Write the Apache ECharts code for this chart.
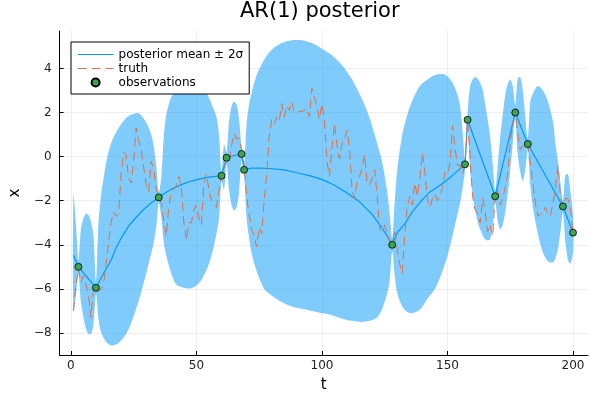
<!DOCTYPE html>
<html lang="en">
<head>
<meta charset="UTF-8">
<title>AR(1) posterior</title>
<script src="https://cdn.jsdelivr.net/npm/echarts@6.0.0/dist/echarts.min.js"></script>
<style>html, body { margin: 0; padding: 0; background: #fff; }</style>
</head>
<body>
<div id="chart" style="width: 600px; height: 400px"></div>
<script>
// observations
var obsT = [3, 10, 35, 60, 62, 68, 69, 128, 157, 158, 169, 177, 182, 196, 200];
var obsX = [-5.0, -5.95, -1.85, -0.87, -0.05, 0.12, -0.6, -4.0, -0.35, 1.67, -1.8, 2.0, 0.57, -2.26, -3.45];

// posterior mean
var meanT = [1, 3, 10, 13, 16, 18, 20, 23, 26, 29, 32, 35, 38, 41, 44, 47, 51, 55, 58, 60,
             62, 65, 68, 69, 72, 76, 80, 85, 90, 95, 100, 105, 110, 115, 120, 124, 126, 128,
             130, 133, 136, 140, 143, 147, 150, 153, 157, 158, 169, 177, 182, 196, 200];
var meanX = [-4.47, -5.0, -5.95, -5.3, -4.7, -4.15, -3.7, -3.15, -2.75, -2.4, -2.1, -1.85, -1.62, -1.42, -1.27, -1.14, -1.02, -0.93, -0.89, -0.87,
             -0.05, 0.05, 0.12, -0.6, -0.52, -0.52, -0.55, -0.6, -0.73, -0.86, -1.03, -1.3, -1.65, -2.05, -2.62, -3.25, -3.6, -4.0,
             -3.45, -3.05, -2.5, -1.95, -1.6, -1.3, -1.05, -0.75, -0.35, 1.67, -1.8, 2.0, 0.57, -2.26, -3.45];

// ribbon: mean +/- 2 sigma, lower and upper edge
var bandT = [1, 2, 3, 4, 5, 6, 7, 8, 9, 10,
             11, 12, 14, 16, 19, 22, 24, 27, 30, 32, 33, 34, 35,
             36, 37, 38, 40, 42, 45, 48, 51, 54, 56, 58, 59, 60,
             61, 62, 63, 64, 65, 66, 67, 68, 69,
             70, 71, 72, 74, 77, 80, 84, 88, 92, 96, 100, 104, 108, 112, 116, 119, 122, 124, 126, 127, 128,
             129, 130, 132, 134, 136, 139, 142, 145, 148, 150, 152, 154, 155, 156, 157,
             158, 159, 160, 161, 162, 163, 164, 165, 166, 167, 168, 169,
             170, 171, 172, 173, 174, 175, 176, 177,
             178, 179, 180, 181, 182,
             183, 184, 186, 188, 190, 192, 193, 194, 195, 196,
             197, 198, 199, 200];
var bandLo = [-7.0, -6.3, -5.3, -6.6, -7.3, -7.8, -8.05, -8.05, -7.6, -6.25,
              -7.35, -7.95, -8.4, -8.57, -8.45, -8.05, -7.55, -6.55, -5.3, -4.4, -3.9, -3.2, -2.1,
              -2.75, -3.9, -4.5, -5.3, -5.8, -5.95, -5.97, -5.75, -5.15, -4.5, -3.5, -2.8, -1.1,
              -1.5, -0.35, -1.5, -2.2, -2.45, -2.3, -1.6, -0.15, -0.85,
              -2.8, -3.7, -4.4, -5.2, -6.0, -6.3, -6.6, -6.8, -6.9, -7.0, -7.1, -7.2, -7.35, -7.45, -7.5, -7.45, -7.3, -6.9, -6.2, -5.6, -4.3,
              -5.4, -6.2, -6.8, -7.05, -7.1, -6.95, -6.45, -6.0, -5.2, -4.5, -3.6, -2.6, -2.1, -1.45, -0.6,
              1.4, -0.6, -1.7, -2.4, -2.95, -3.3, -3.55, -3.75, -3.8, -3.75, -3.1, -2.05,
              -2.9, -3.3, -3.1, -2.5, -1.7, -0.6, 0.6, 1.7,
              0.1, -0.7, -1.1, -0.6, 0.3,
              -1.3, -2.3, -3.5, -4.35, -4.75, -4.8, -4.6, -4.2, -3.4, -2.55,
              -3.9, -4.7, -4.85, -4.3];
var bandHi = [-1.7, -3.0, -4.7, -3.3, -2.8, -2.6, -2.65, -2.95, -3.6, -5.65,
              -3.0, -1.8, -0.3, 0.6, 1.3, 1.75, 1.9, 1.97, 1.55, 1.0, 0.45, -0.4, -1.6,
              -0.95, 0.9, 1.9, 2.7, 3.0, 3.4, 3.6, 3.45, 2.9, 2.4, 1.8, 1.0, -0.65,
              0.55, 0.2, 1.6, 2.3, 2.5, 2.35, 1.7, 0.35, -0.35,
              1.5, 2.4, 2.9, 3.7, 4.4, 4.85, 5.15, 5.28, 5.28, 5.15, 4.9, 4.6, 4.15, 3.5, 2.6, 1.75, 0.6, -0.25, -1.6, -2.6, -3.7,
              -2.0, -0.6, 1.0, 1.9, 2.55, 3.2, 3.5, 3.7, 3.75, 3.65, 3.35, 2.8, 2.3, 1.2, -0.1,
              1.95, 3.2, 3.5, 3.6, 3.55, 3.35, 3.05, 2.4, 1.7, 0.9, -0.3, -1.55,
              -0.4, 0.9, 1.9, 2.8, 3.3, 3.5, 3.2, 2.35,
              3.55, 3.6, 3.0, 1.8, 0.85,
              2.5, 2.85, 3.2, 3.0, 2.5, 1.6, 0.6, -0.2, -1.2, -2.0,
              -0.85, -0.8, -1.6, -2.7];

// truth, t = 1..200
var truthX = [-7.0, -5.9, -5.1, -5.7, -5.4, -5.8, -6.3, -7.3, -6.0, -5.9,
              -6.1, -6.0, -5.8, -4.9, -3.9, -3.0, -2.5, -2.7, -2.6, -0.8,
              0.2, 0.1, -1.0, -1.2, -0.2, 1.3, 0.7, 0.3, -0.5, -1.25,
              -1.6, -0.2, -0.6, -1.5, -1.85, -2.1, -2.9, -3.6, -2.3, -1.6,
              -1.5, -1.3, -0.9, -1.4, -3.0, -3.8, -3.0, -3.0, -2.4, -2.2,
              -2.8, -3.1, -1.2, -0.8, -1.5, -2.0, -2.1, -2.3, -1.5, -0.9,
              -0.4, -0.2, -0.3, 0.5, 1.05, 0.8, 0.85, 0.3, -0.4, -1.8,
              -2.6, -3.3, -3.6, -4.1, -3.2, -3.5, -2.0, -0.8, 0.9, 1.7,
              1.5, 1.8, 1.6, 2.4, 1.8, 2.3, 2.1, 2.5, 2.0, 2.0,
              2.05, 2.05, 2.1, 2.2, 1.8, 3.1, 2.7, 2.3, 1.7, 2.4,
              1.6, -0.2, -0.9, 0.4, 1.5, 0.5, -0.1, 0.6, 0.8, 1.2,
              0.3, -1.5, -1.9, -1.1, -0.9, -0.5, 0.1, -1.2, -1.3, -1.0,
              -0.6, -1.8, -3.3, -3.4, -3.1, -3.5, -3.8, -4.0, -3.3, -4.2,
              -4.9, -5.3, -3.5, -2.3, -1.8, -2.2, -1.2, -1.8, -1.0, 0.2,
              -0.7, -1.9, -2.3, -1.9, -1.7, -2.0, -1.8, -1.4, -0.7, -0.8,
              -0.3, 1.4, 0.4, -0.4, -0.4, -0.8, -0.35, 1.65, 0.0, -1.8,
              -2.4, -2.6, -3.0, -1.9, -2.5, -3.4, -3.1, -3.6, -1.8, -1.5,
              -2.2, -1.9, -1.4, -0.8, 0.7, 1.5, 2.2, 1.0, 0.3, 0.5,
              0.4, 0.55, -0.3, -1.2, -2.1, -2.7, -2.6, -2.6, -2.3, -2.6,
              -2.7, -2.1, -1.5, -0.4, -1.8, -2.25, -1.9, -1.9, -2.4, -3.45];

var xTicks = [0, 50, 100, 150, 200];
var yTicks = [-8, -6, -4, -2, 0, 2, 4];

var font = 'DejaVu Sans';
function minus(v) { return String(v).replace('-', '\u2212'); }

var chart = echarts.init(document.getElementById('chart'));

var axisCommon = {
    type: 'value',
    axisLine: { show: true, onZero: false, lineStyle: { color: '#000', width: 1 } },
    axisTick: { show: true, inside: true, length: 4, lineStyle: { color: '#000' } },
    splitLine: { show: true, lineStyle: { color: '#e6e6e6', width: 0.7 } },
    nameLocation: 'middle',
    nameTextStyle: { fontFamily: font, fontSize: 15, color: '#000' }
};

var option = {
    animation: false,
    backgroundColor: '#fff',
    title: {
        text: 'AR(1) posterior',
        left: 240, top: 1, padding: 0,
        textStyle: { fontFamily: font, fontSize: 21, fontWeight: 'normal', color: '#000' }
    },
    grid: { left: 53, right: 12, top: 31, bottom: 45, containLabel: false },
    legend: {
        orient: 'vertical',
        left: 71, top: 42,
        padding: [6, 6, 5, 6],
        itemWidth: 36, itemHeight: 8, itemGap: 1,
        backgroundColor: '#fff',
        borderColor: '#000', borderWidth: 1, borderRadius: 0,
        lineStyle: { width: 1.2 },
        textStyle: { fontFamily: font, fontSize: 12, color: '#000', lineHeight: 13 },
        data: ['posterior mean \u00b1 2\u03c3', 'truth', 'observations']
    },
    xAxis: Object.assign({}, axisCommon, {
        min: -4.5, max: 205.97,
        name: 't', nameGap: 23,
        axisTick: Object.assign({}, axisCommon.axisTick, { customValues: xTicks }),
        axisLabel: { customValues: xTicks, fontFamily: font, fontSize: 12, color: '#222', margin: 5, formatter: minus }
    }),
    yAxis: Object.assign({}, axisCommon, {
        min: -9.0, max: 5.7,
        name: 'x', nameGap: 35,
        axisTick: Object.assign({}, axisCommon.axisTick, { customValues: yTicks }),
        axisLabel: { customValues: yTicks, fontFamily: font, fontSize: 12, color: '#222', margin: 8, formatter: minus }
    }),
    series: [
        {
            // ribbon drawn as one polygon through the grid's coordinates
            name: 'ribbon',
            type: 'custom',
            silent: true,
            z: 1,
            data: bandT.map(function (t, i) { return [t, bandLo[i], bandHi[i]]; }),
            encode: { x: 0, y: [1, 2] },
            renderItem: function (params, api) {
                if (params.dataIndex !== 0) return null;
                var n = params.dataInsideLength;
                var top = [], bot = [];
                for (var i = 0; i < n; i++) {
                    top.push(api.coord([api.value(0, i), api.value(2, i)]));
                    bot.push(api.coord([api.value(0, i), api.value(1, i)]));
                }
                return {
                    type: 'polygon',
                    shape: { points: top.concat(bot.reverse()), smooth: 0.3 },
                    style: { fill: 'rgba(0,154,249,0.5)', stroke: null }
                };
            }
        },
        {
            name: 'posterior mean \u00b1 2\u03c3',
            type: 'line',
            z: 2,
            symbol: 'none',
            lineStyle: { color: '#009af9', width: 1.2 },
            itemStyle: { color: 'rgba(0,0,0,0)' },
            data: meanT.map(function (t, i) { return [t, meanX[i]]; })
        },
        {
            name: 'truth',
            type: 'line',
            z: 3,
            symbol: 'none',
            lineStyle: { color: '#e26f46', width: 1, type: [9, 5] },
            itemStyle: { color: 'rgba(0,0,0,0)' },
            data: truthX.map(function (v, i) { return [i + 1, v]; })
        },
        {
            name: 'observations',
            type: 'scatter',
            z: 4,
            symbol: 'circle',
            symbolSize: 7,
            symbolKeepAspect: true,
            itemStyle: { color: '#3da44d', borderColor: '#000', borderWidth: 0.8, opacity: 1 },
            data: obsT.map(function (t, i) { return [t, obsX[i]]; })
        }
    ]
};

chart.setOption(option);
</script>
</body>
</html>
